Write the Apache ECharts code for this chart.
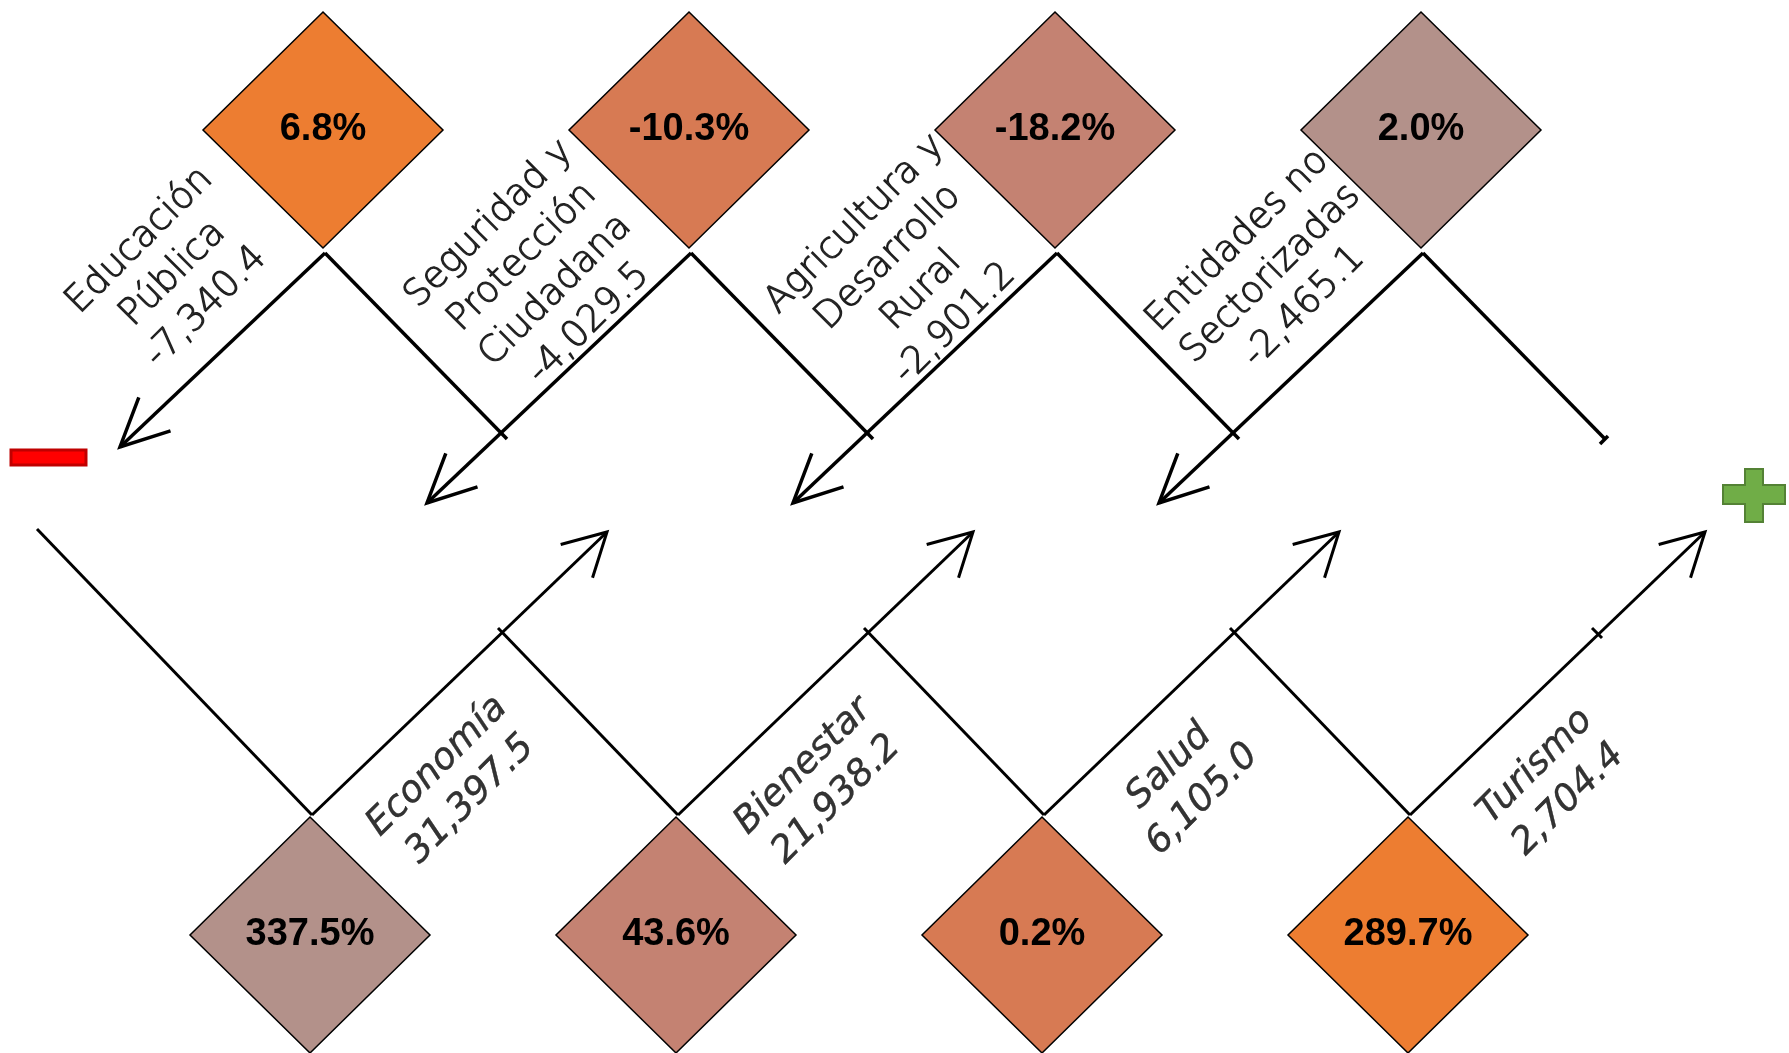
<!DOCTYPE html>
<html><head><meta charset="utf-8">
<script src="https://cdn.jsdelivr.net/npm/echarts@6/dist/echarts.min.js"></script>
<style>html,body{margin:0;padding:0;background:#fff}#c{width:1789px;height:1053px}</style>
</head><body><div id="c"></div>
<script>
// ---------- data ----------
const topNames = ['Educación\nPública', 'Seguridad y\nProtección\nCiudadana', 'Agricultura y\nDesarrollo\nRural', 'Entidades no\nSectorizadas'];
const topValues = [-7340.4, -4029.5, -2901.2, -2465.1];
const topPct = [6.8, -10.3, -18.2, 2.0];
const bottomNames = ['Economía', 'Bienestar', 'Salud', 'Turismo'];
const bottomValues = [31397.5, 21938.2, 6105.0, 2704.4];
const bottomPct = [337.5, 43.6, 0.2, 289.7];
const topColors = ['#ED7D31', '#D77A53', '#C48272', '#B3918A'];
const bottomColors = ['#B3918A', '#C48272', '#D77A53', '#ED7D31'];

// ---------- layout ----------
const W = 1789, H = 1053;
const COL_STEP = 366, TOP_X0 = 323, BOT_X0 = 310;
const TOP_CY = 130, BOT_CY = 935;
const DIAMOND = [240, 236];
const TOP_LABEL_OFF = [-150, 144], BOT_LABEL_OFF = [144, -152];

const fmtNum = v => v.toLocaleString('en-US', {minimumFractionDigits: 1, maximumFractionDigits: 1});
const fmtPct = v => v.toFixed(1) + '%';

function head(tip, from, len, ang) {
  const a = Math.atan2(from[1] - tip[1], from[0] - tip[0]);
  return [[tip[0] + len * Math.cos(a + ang), tip[1] + len * Math.sin(a + ang)], tip,
          [tip[0] + len * Math.cos(a - ang), tip[1] + len * Math.sin(a - ang)]];
}
const add = (p, d) => [p[0] + d[0], p[1] + d[1]];

function topLinks(params, api) {
  const i = api.value(0);
  const n = topValues.length;
  const cx = TOP_X0 + COL_STEP * i;
  const v = [cx + 2, 253];
  const aEnd = add(v, i === 0 ? [-205, 194] : [-264, 250]);
  const rEnd = add(v, [182, 186]);
  const V = api.coord(v), A = api.coord(aEnd), R = api.coord(rEnd);
  const st = {stroke: '#000', lineWidth: 3.5, fill: null, lineCap: 'butt'};
  const ch = [
    {type: 'line', shape: {x1: V[0], y1: V[1], x2: A[0], y2: A[1]}, style: st},
    {type: 'polyline', shape: {points: head(A, V, 53, 0.45)}, style: st},
    {type: 'line', shape: {x1: V[0], y1: V[1], x2: R[0], y2: R[1]}, style: st}
  ];
  if (i === n - 1) {
    const t1 = api.coord(add(rEnd, [-5, 5])), t2 = api.coord(add(rEnd, [3, -3]));
    ch.push({type: 'line', shape: {x1: t1[0], y1: t1[1], x2: t2[0], y2: t2[1]}, style: st});
  }
  return {type: 'group', children: ch};
}

function bottomLinks(params, api) {
  const i = api.value(0);
  const n = bottomValues.length;
  const cx = BOT_X0 + COL_STEP * i;
  const v = [cx + 2, 815];
  const aEnd = add(v, [295, -283]);
  const lStart = add(v, i === 0 ? [-275, -286] : [-180, -187]);
  const V = api.coord(v), A = api.coord(aEnd), L = api.coord(lStart);
  const st = {stroke: '#000', lineWidth: 3, fill: null, lineCap: 'butt'};
  const ch = [
    {type: 'line', shape: {x1: V[0], y1: V[1], x2: A[0], y2: A[1]}, style: st},
    {type: 'polyline', shape: {points: head(A, V, 48, 0.5)}, style: st},
    {type: 'line', shape: {x1: L[0], y1: L[1], x2: V[0], y2: V[1]}, style: st}
  ];
  if (i === n - 1) {
    const p = add(v, [187, -182]);
    const t1 = api.coord(add(p, [-5, -5])), t2 = api.coord(add(p, [5, 5]));
    ch.push({type: 'line', shape: {x1: t1[0], y1: t1[1], x2: t2[0], y2: t2[1]}, style: st});
  }
  return {type: 'group', children: ch};
}

const labelFont = {fontFamily: 'DejaVu Sans', fontWeight: 200, fontSize: 37, lineHeight: 47, color: '#000'};
const pctFont = {fontFamily: 'Liberation Sans', fontWeight: 'bold', fontSize: 38, color: '#000'};

const chart = echarts.init(document.getElementById('c'), null, {renderer: 'canvas'});
chart.setOption({
  animation: false,
  backgroundColor: '#fff',
  grid: {left: 0, right: 0, top: 0, bottom: 0},
  xAxis: {type: 'value', min: 0, max: W, show: false},
  yAxis: {type: 'value', min: 0, max: H, inverse: true, show: false},
  graphic: [
    {type: 'rect', shape: {x: 11, y: 450, width: 75, height: 15}, style: {fill: '#FF0000', stroke: '#C00000', lineWidth: 3}},
    {type: 'polygon', shape: {points: [[1745,469],[1763,469],[1763,485],[1785,485],[1785,504],[1763,504],[1763,522],[1745,522],[1745,504],[1723,504],[1723,485],[1745,485]]},
     style: {fill: '#70AD47', stroke: '#548235', lineWidth: 2}}
  ],
  series: [
    {type: 'custom', renderItem: topLinks, data: topValues.map((v, i) => [i, v]), silent: true, z: 1},
    {type: 'custom', renderItem: bottomLinks, data: bottomValues.map((v, i) => [i, v]), silent: true, z: 1},
    {type: 'scatter', symbol: 'diamond', symbolSize: DIAMOND, z: 2,
     data: topPct.map((p, i) => ({value: [TOP_X0 + COL_STEP * i, TOP_CY], pct: p, itemStyle: {color: topColors[i]}})),
     itemStyle: {borderColor: '#000', borderWidth: 1.5, opacity: 1},
     label: Object.assign({show: true, position: 'inside', formatter: p => fmtPct(p.data.pct)}, pctFont)},
    {type: 'scatter', symbol: 'diamond', symbolSize: DIAMOND, z: 2,
     data: bottomPct.map((p, i) => ({value: [BOT_X0 + COL_STEP * i, BOT_CY], pct: p, itemStyle: {color: bottomColors[i]}})),
     itemStyle: {borderColor: '#000', borderWidth: 1.5, opacity: 1},
     label: Object.assign({show: true, position: 'inside', formatter: p => fmtPct(p.data.pct)}, pctFont)},
    {type: 'scatter', symbolSize: 1, z: 3, itemStyle: {color: 'rgba(0,0,0,0)'},
     data: topNames.map((nm, i) => ({value: [TOP_X0 + COL_STEP * i + TOP_LABEL_OFF[0], TOP_CY + TOP_LABEL_OFF[1]], txt: nm + '\n' + fmtNum(topValues[i])})),
     label: Object.assign({show: true, position: 'inside', rotate: 45, align: 'center', verticalAlign: 'middle',
                           textBorderColor: '#000', textBorderWidth: 1.1, formatter: p => p.data.txt}, labelFont)},
    {type: 'scatter', symbolSize: 1, z: 3, itemStyle: {color: 'rgba(0,0,0,0)'},
     data: bottomNames.map((nm, i) => ({value: [BOT_X0 + COL_STEP * i + BOT_LABEL_OFF[0], BOT_CY + BOT_LABEL_OFF[1]], txt: nm + '\n' + fmtNum(bottomValues[i])})),
     label: Object.assign({show: true, position: 'inside', rotate: 45, align: 'center', verticalAlign: 'middle', fontStyle: 'italic',
                           textBorderColor: '#000', textBorderWidth: 0.4, formatter: p => p.data.txt}, labelFont)}
  ]
});
</script>
</body></html>
